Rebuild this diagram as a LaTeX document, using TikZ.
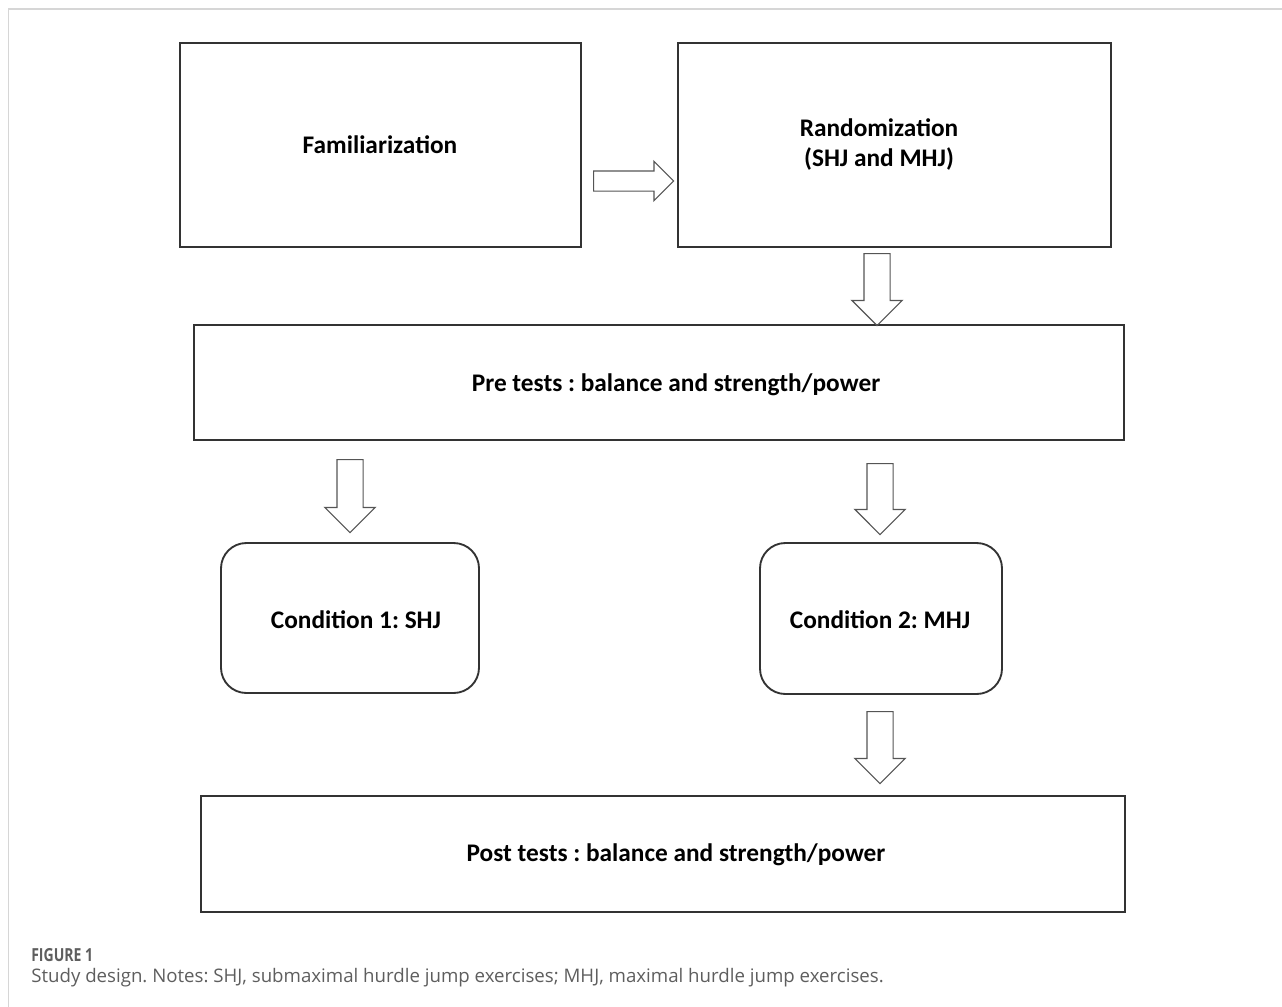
\documentclass[tikz,border=0pt]{standalone}
\usepackage{fontspec}
\setmainfont{Carlito}
\newfontfamily\capfont{Open Sans}
\usetikzlibrary{shapes.arrows}
\definecolor{boxline}{HTML}{333333}
\definecolor{arrline}{HTML}{555555}
\definecolor{framegray}{HTML}{D6D6D6}
\definecolor{capgray}{HTML}{5E5E5E}
\frenchspacing
\begin{document}
\begin{tikzpicture}[x=0.75pt,y=-0.75pt,
  box/.style={draw=boxline, line width=1.4pt, inner sep=0pt, rectangle},
  rbox/.style={box, rounded corners=19pt},
  lbl/.style={font=\frenchspacing\fontsize{19}{22.5}\selectfont\bfseries, text=black, inner sep=0pt, align=center},
  darr/.style={single arrow, draw=arrline, line width=0.9pt, shape border rotate=270, inner sep=9.375pt, single arrow head extend=9pt, single arrow tip angle=90, minimum width=1pt, anchor=tail},
  rarr/.style={single arrow, draw=arrline, line width=0.9pt, inner sep=7.125pt, single arrow head extend=7.125pt, single arrow tip angle=90, minimum width=1pt, anchor=tail, minimum height=60pt},
  caphead/.style={font=\capfont\fontsize{13.5}{16}\selectfont\bfseries, text=capgray, anchor=west, inner sep=0pt},
  captext/.style={font=\capfont\frenchspacing\fontsize{14}{16}\selectfont, text=capgray, anchor=west, inner sep=0pt},
]
\useasboundingbox (0,0) rectangle (1282,1007);
% frame
\draw[framegray, line width=1.1pt] (1282,9) -- (8.5,9) -- (8.5,1007);

% boxes
\node[box, minimum width=300.75pt, minimum height=153pt] (fam) at (380.5,145) {};
\node[box, minimum width=324.75pt, minimum height=153pt] (rand) at (894.5,145) {};
\node[box, minimum width=697.5pt, minimum height=86.25pt] (pre) at (659,382.5) {};
\node[rbox, minimum width=193.5pt, minimum height=112.5pt] (c1) at (350,618) {};
\node[rbox, minimum width=181.5pt, minimum height=113.25pt] (c2) at (881,618.5) {};
\node[box, minimum width=693pt, minimum height=87pt] (post) at (663,854) {};

% labels
\node[lbl] (famt) at (380,145) {Familiarization};
\node[lbl] (randt) at (879,145) {Randomization\\(SHJ and MHJ)};
\node[lbl] (pret) at (676,385) {Pre tests : balance and strength/power};
\node[lbl] (c1t) at (356,620) {Condition 1: SHJ};
\node[lbl] (c2t) at (880,620) {Condition 2: MHJ};
\node[lbl] (postt) at (676,855) {Post tests : balance and strength/power};

% block arrows
\node[rarr] (a0) at (593,181) {};
\node[darr, minimum height=54pt] (a1) at (877,253) {};
\node[darr, minimum height=54.75pt] (a2) at (350,459) {};
\node[darr, minimum height=53.25pt] (a3) at (880,463) {};
\node[darr, minimum height=54pt] (a4) at (880,711) {};

% caption
\node[caphead] (fig) at (31,955) {\scalebox{0.78}[1]{FIGURE 1}};
\node[captext] (cap) at (31,978) {Study design. Notes: SHJ, submaximal hurdle jump exercises; MHJ, maximal hurdle jump exercises.};
\end{tikzpicture}
\end{document}
